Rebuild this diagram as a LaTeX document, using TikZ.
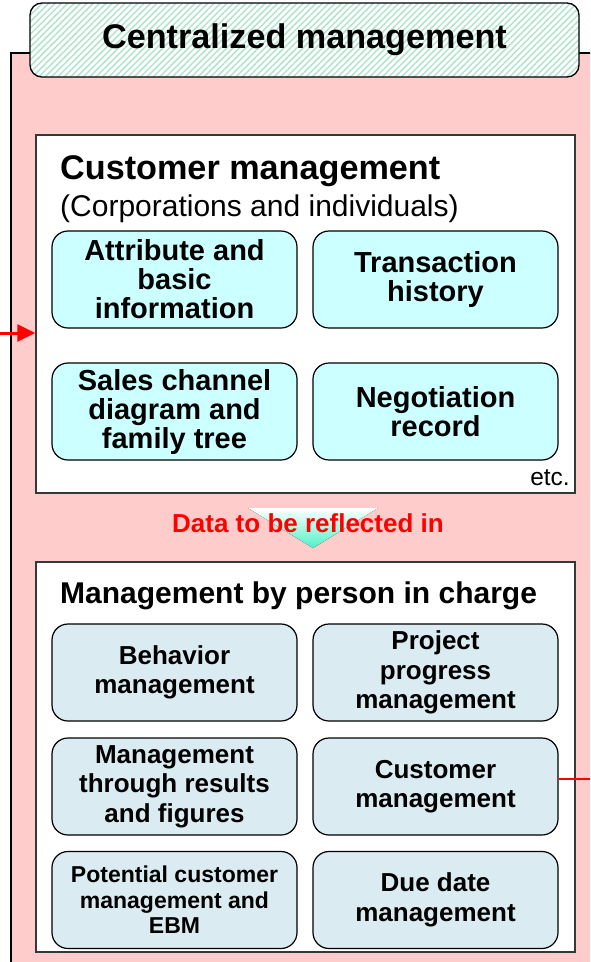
\documentclass[tikz,border=0pt]{standalone}
\usepackage{fontspec}
\setmainfont{Liberation Sans}
\usetikzlibrary{patterns.meta,arrows.meta}
\definecolor{panelpink}{RGB}{255,204,204}
\definecolor{hatchgreen}{RGB}{176,228,206}
\definecolor{cyanbox}{RGB}{204,255,255}
\definecolor{bluebox}{RGB}{218,236,242}
\definecolor{framegray}{RGB}{55,55,55}
\definecolor{arrowteal}{RGB}{80,240,200}

\begin{document}
\begin{tikzpicture}[x=1pt,y=-1pt,
  titlebox/.style={preaction={fill=white}, pattern={Lines[angle=45,distance=4.5pt,line width=1.5pt]},
    pattern color=hatchgreen, draw=black, line width=1.3pt, rounded corners=12pt,
    minimum width=549pt, minimum height=74pt, inner sep=0pt,
    font=\bfseries\fontsize{34.2}{38}\selectfont},
  groupframe/.style={draw=framegray, fill=white, line width=1.4pt, minimum width=539pt, inner sep=0pt},
  itembox/.style={draw=black, line width=1.2pt, rounded corners=16pt, minimum width=245pt,
    minimum height=97pt, align=center, inner sep=0pt},
  topitem/.style={itembox, fill=cyanbox, font=\bfseries\fontsize{29}{29}\selectfont},
  lowitem/.style={itembox, fill=bluebox, font=\bfseries\fontsize{26}{29.5}\selectfont},
  heading/.style={anchor=base west, inner sep=0pt},
  link/.style={red, line width=2pt}
]
\useasboundingbox (0,0) rectangle (590,962);

% background panel running off the right and bottom edges
\begin{scope}
  \clip (0,0) rectangle (590,962);
  \fill[panelpink, draw=black, line width=1.5pt] (11,53) rectangle (610,985);
\end{scope}

% title tab
\node[titlebox] (title) at (304.5,40) {Centralized management};

% customer management group
\node[groupframe, minimum height=358pt] (cust) at (305.5,314) {};
\node[heading, font=\bfseries\fontsize{34.2}{38}\selectfont] (custhead) at (60,179) {Customer management};
\node[heading, font=\fontsize{30}{34}\selectfont] (custsub) at (60,216) {(Corporations and individuals)};
\node[topitem] (attr) at (174.5,279.5) {Attribute and\\basic\\information};
\node[topitem] (trans) at (435.5,279.5) {Transaction\\history};
\node[topitem] (sales) at (174.5,411.5) {Sales channel\\diagram and\\family tree};
\node[topitem] (nego) at (435.5,411.5) {Negotiation\\record};
\node[anchor=base east, inner sep=0pt, font=\fontsize{24.5}{28}\selectfont] (etc) at (570,485) {etc.};

% down arrow with caption
\fill[top color=white, bottom color=arrowteal] (248,508) -- (378,508) -- (313,548) -- cycle;
\node[anchor=base, inner sep=0pt, red, font=\bfseries\fontsize{26}{30}\selectfont] (reflect) at (308,532) {Data to be reflected in};

% management by person in charge group
\node[groupframe, minimum height=390pt] (pic) at (305.5,757) {};
\node[heading, font=\bfseries\fontsize{30}{34}\selectfont] (pichead) at (60,603) {Management by person in charge};
\node[lowitem] (behav) at (174.5,672.5) {Behavior\\management};
\node[lowitem] (proj) at (435.5,672.5) {Project\\progress\\management};
\node[lowitem] (results) at (174.5,786.5) {Management\\through results\\and figures};
\node[lowitem] (custmgmt) at (435.5,786.5) {Customer\\management};
\node[lowitem, font=\bfseries\fontsize{23}{25.5}\selectfont] (potential) at (174.5,900) {Potential customer\\management and\\EBM};
\node[lowitem] (due) at (435.5,900) {Due date\\management};

% connectors leaving the picture
\coordinate (leftin) at (0,333);
\coordinate (rightout) at (590,779);
\draw[link, line width=3pt, -{Triangle[length=18pt,width=17pt]}] (leftin) -- (cust.west |- leftin);
\draw[link] (custmgmt.east |- rightout) -- (rightout);
\end{tikzpicture}
\end{document}
